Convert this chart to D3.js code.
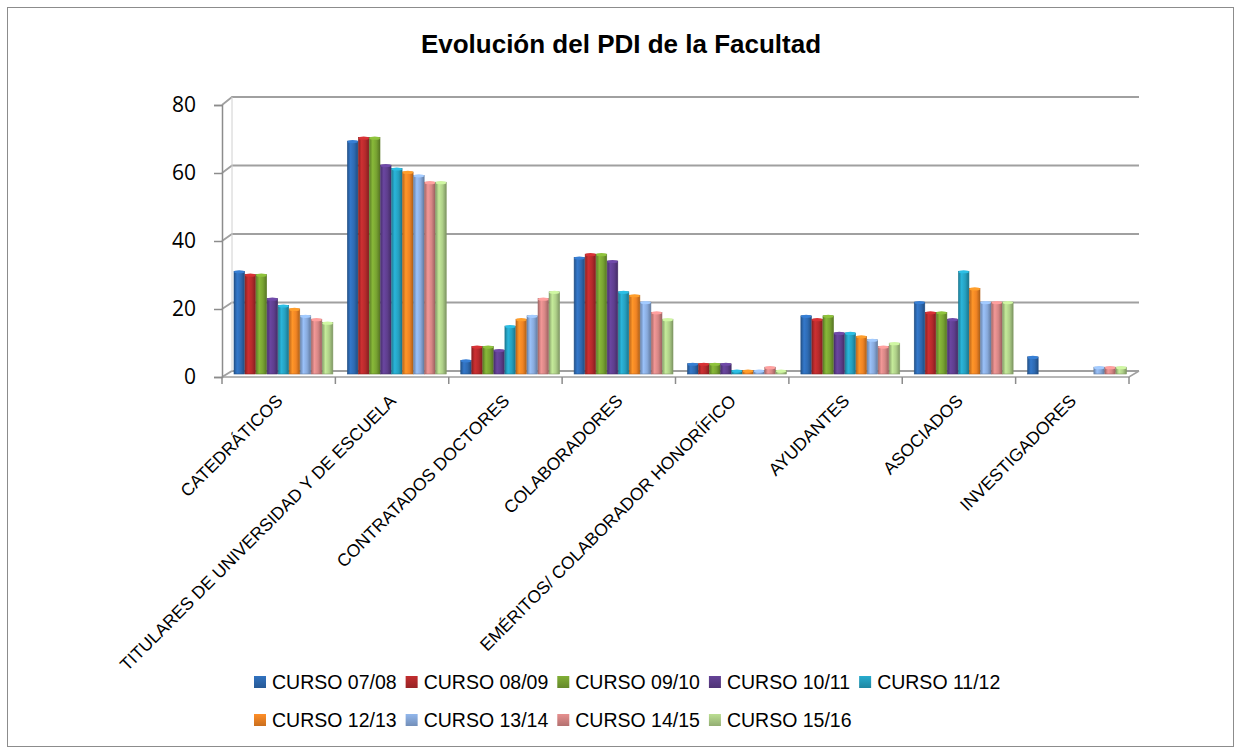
<!DOCTYPE html>
<html><head><meta charset="utf-8">
<script src="https://cdn.jsdelivr.net/npm/d3@7"></script>
<style>body{margin:0;background:#fff}svg{display:block}</style>
</head><body>
<svg id="c" width="1241" height="754"></svg>
<script>
const categories = ["CATEDRÁTICOS","TITULARES DE UNIVERSIDAD Y DE ESCUELA","CONTRATADOS DOCTORES","COLABORADORES","EMÉRITOS/ COLABORADOR HONORÍFICO","AYUDANTES","ASOCIADOS","INVESTIGADORES"];
const seriesNames = ["CURSO 07/08","CURSO 08/09","CURSO 09/10","CURSO 10/11","CURSO 11/12","CURSO 12/13","CURSO 13/14","CURSO 14/15","CURSO 15/16"];
const curso0708 = [30,68,4,34,3,17,21,5];
const curso0809 = [29,69,8,35,3,16,18,0];
const curso0910 = [29,69,8,35,3,17,18,0];
const curso1011 = [22,61,7,33,3,12,16,0];
const curso1112 = [20,60,14,24,1,12,30,0];
const curso1213 = [19,59,16,23,1,11,25,0];
const curso1314 = [17,58,17,21,1,10,21,2];
const curso1415 = [16,56,22,18,2,8,21,2];
const curso1516 = [15,56,24,16,1,9,21,2];
const seriesValues = [curso0708,curso0809,curso0910,curso1011,curso1112,curso1213,curso1314,curso1415,curso1516];
const yTicks = [0,20,40,60,80];
const colors = ["#2E6AB2","#B52A2C","#78A332","#5E3E8D","#25A0C0","#F08424","#88AADC","#D68685","#AECF88"];

const svg = d3.select("#c");
svg.append("rect").attr("x",7.5).attr("y",7.5).attr("width",1226).attr("height",739)
  .attr("fill","#fff").attr("stroke","#8c8c8c").attr("stroke-width",1);

// title
svg.append("text").attr("x",621).attr("y",53).attr("text-anchor","middle")
  .attr("font-family","Liberation Sans, Arial, sans-serif").attr("font-weight","bold")
  .attr("font-size",26).attr("fill","#000").text("Evolución del PDI de la Facultad");

const defs = svg.append("defs");
colors.forEach((c,i)=>{
  const g = defs.append("linearGradient").attr("id","g"+i).attr("x1","0").attr("x2","1").attr("y1","0").attr("y2","0");
  const cc = d3.color(c);
  g.append("stop").attr("offset","0%").attr("stop-color",cc.darker(0.7));
  g.append("stop").attr("offset","30%").attr("stop-color",cc.brighter(0.35));
  g.append("stop").attr("offset","65%").attr("stop-color",c);
  g.append("stop").attr("offset","100%").attr("stop-color",cc.darker(0.9));
  const lg = defs.append("linearGradient").attr("id","l"+i).attr("x1","0").attr("x2","0").attr("y1","0").attr("y2","1");
  lg.append("stop").attr("offset","0%").attr("stop-color",cc.brighter(0.2));
  lg.append("stop").attr("offset","100%").attr("stop-color",cc.darker(0.5));
});

const x0 = 222, x1 = 1129, dx = 10;
const x = d3.scaleBand().domain(categories).range([x0,x1]).padding(0);
const bw = x.bandwidth();
const xs = d3.scaleBand().domain(seriesNames).range([12, bw-2]).padding(0);
const yFront = d3.scaleLinear().domain([0,80]).range([377,105]);
const yBack = d3.scaleLinear().domain([0,80]).range([371,97]);
const yBar = d3.scaleLinear().domain([0,80]).range([374,100]);

// gridlines (back wall) with slant from left wall
const grid = svg.append("g");
yTicks.forEach(t=>{
  grid.append("path")
    .attr("d",`M${x0},${yFront(t)} L${x0+dx},${yBack(t)} L${x1+dx},${yBack(t)}`)
    .attr("fill","none").attr("stroke","#a0a0a0").attr("stroke-width",1.8);
});
// floor
svg.append("path").attr("d",`M${x0},${yFront(0)} L${x1},${yFront(0)} L${x1+dx},${yBack(0)}`)
  .attr("fill","none").attr("stroke","#a0a0a0").attr("stroke-width",1.5);
svg.append("line").attr("x1",x0+dx).attr("x2",x0+dx).attr("y1",yBack(0)).attr("y2",yBack(80))
  .attr("stroke","#d0d0d0").attr("stroke-width",1);

// y axis
const yAxis = d3.axisLeft(yFront).tickValues(yTicks).tickSize(8).tickPadding(18);
const ga = svg.append("g").attr("transform",`translate(${x0},0)`).call(yAxis);
ga.select(".domain").attr("stroke","#8c8c8c").attr("stroke-width",1.5);
ga.selectAll(".tick line").attr("stroke","#8c8c8c").attr("stroke-width",1.5);
ga.selectAll(".tick text").attr("font-family","Open Sans, sans-serif").attr("font-size",21).attr("fill","#000");

// x ticks between categories
const bounds = categories.map(c=>x(c)).concat([x1]);
svg.append("g").selectAll("line").data(bounds).join("line")
  .attr("x1",d=>d).attr("x2",d=>d).attr("y1",yFront(0)).attr("y2",yFront(0)+7)
  .attr("stroke","#8c8c8c").attr("stroke-width",1.5);

// bars
const bars = svg.append("g");
categories.forEach((cat,ci)=>{
  seriesNames.forEach((s,si)=>{
    const v = seriesValues[si][ci];
    if(!v) return;
    const bx = x(cat)+xs(s), w = xs.bandwidth()-0.5, top = yBar(v);
    bars.append("rect").attr("x",bx).attr("y",top).attr("width",w).attr("height",yBar(0)-top)
      .attr("fill",`url(#g${si})`).attr("stroke",d3.color(colors[si]).darker(0.8)).attr("stroke-width",0.6);
    bars.append("ellipse").attr("cx",bx+w/2).attr("cy",top+0.5).attr("rx",w/2).attr("ry",1.6)
      .attr("fill",d3.color(colors[si]).brighter(0.5));
  });
});

// category labels
svg.append("g").selectAll("text").data(categories).join("text")
  .attr("transform",d=>`translate(${x(d)+bw/2+5},${yFront(0)+25}) rotate(-45)`)
  .attr("text-anchor","end")
  .attr("font-family","Liberation Sans, Arial, sans-serif").attr("font-size",17.5).attr("fill","#000")
  .text(d=>d);

// legend
const leg = svg.append("g");
const rows = [[0,1,2,3,4],[5,6,7,8]];
rows.forEach((r,ri)=>{
  let cx = 254;
  const cy = [682,720][ri];
  r.forEach(si=>{
    leg.append("rect").attr("x",cx).attr("y",cy-6).attr("width",12).attr("height",12).attr("fill",`url(#l${si})`);
    const t = leg.append("text").attr("x",cx+18).attr("y",cy+7)
      .attr("font-family","Liberation Sans, Arial, sans-serif").attr("font-size",19.5).attr("fill","#000")
      .text(seriesNames[si]);
    cx += 18 + t.node().getComputedTextLength() + 9;
  });
});
</script>
</body></html>
